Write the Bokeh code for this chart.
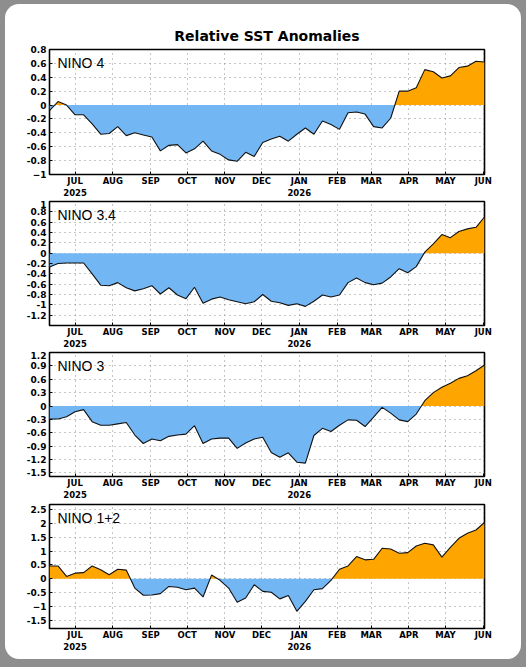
import numpy as np
import pandas as pd
from bokeh.plotting import figure
from bokeh.layouts import column
from bokeh.models import FixedTicker, Label, Range1d
from bokeh.embed import file_html
from bokeh.resources import INLINE

# ---------------- data ----------------
week_start = "2025-06-10"
n_weeks = 52

nino4 = [-0.08, 0.05, 0.00, -0.14, -0.14, -0.27, -0.42, -0.41, -0.31, -0.44,
         -0.40, -0.43, -0.46, -0.66, -0.58, -0.57, -0.69, -0.63, -0.52, -0.66,
         -0.71, -0.79, -0.81, -0.68, -0.74, -0.54, -0.49, -0.45, -0.52, -0.42,
         -0.33, -0.42, -0.23, -0.28, -0.35, -0.11, -0.10, -0.13, -0.31, -0.33,
         -0.19, 0.20, 0.20, 0.25, 0.51, 0.48, 0.39, 0.42, 0.54, 0.56, 0.63, 0.62]

nino34 = [-0.27, -0.20, -0.19, -0.19, -0.19, -0.40, -0.62, -0.63, -0.57, -0.67,
          -0.73, -0.69, -0.63, -0.79, -0.67, -0.81, -0.88, -0.66, -0.97, -0.89,
          -0.85, -0.90, -0.94, -0.98, -0.94, -0.80, -0.93, -0.96, -1.01, -0.98,
          -1.03, -0.93, -0.81, -0.85, -0.81, -0.57, -0.48, -0.57, -0.61, -0.58,
          -0.46, -0.30, -0.38, -0.26, 0.02, 0.18, 0.36, 0.30, 0.42, 0.47, 0.50, 0.70]

nino3 = [-0.29, -0.29, -0.24, -0.13, -0.08, -0.35, -0.43, -0.43, -0.40, -0.37,
         -0.65, -0.84, -0.74, -0.78, -0.68, -0.65, -0.63, -0.44, -0.84, -0.74,
         -0.72, -0.72, -0.95, -0.83, -0.74, -0.70, -1.04, -1.15, -1.05, -1.26,
         -1.28, -0.66, -0.50, -0.57, -0.43, -0.31, -0.32, -0.46, -0.25, -0.03,
         -0.16, -0.31, -0.35, -0.18, 0.12, 0.30, 0.42, 0.51, 0.62, 0.68, 0.79, 0.92]

nino12 = [0.46, 0.46, 0.08, 0.20, 0.22, 0.46, 0.32, 0.14, 0.34, 0.31,
          -0.34, -0.60, -0.59, -0.54, -0.28, -0.31, -0.40, -0.34, -0.66, 0.13,
          -0.06, -0.34, -0.85, -0.70, -0.22, -0.46, -0.49, -0.73, -0.61, -1.18,
          -0.82, -0.40, -0.36, -0.06, 0.34, 0.46, 0.80, 0.68, 0.70, 1.10,
          1.07, 0.92, 0.94, 1.18, 1.28, 1.22, 0.78, 1.13, 1.46, 1.64, 1.76, 2.03]

panel_names = ["NINO 4", "NINO 3.4", "NINO 3", "NINO 1+2"]

month_starts = ["2025-07-01", "2025-08-01", "2025-09-01", "2025-10-01", "2025-11-01",
                "2025-12-01", "2026-01-01", "2026-02-01", "2026-03-01", "2026-04-01",
                "2026-05-01", "2026-06-01"]
month_labels = ["JUL\n2025", "AUG", "SEP", "OCT", "NOV", "DEC", "JAN\n2026",
                "FEB", "MAR", "APR", "MAY", "JUN"]

y_ticks4 = [0.8, 0.6, 0.4, 0.2, 0, -0.2, -0.4, -0.6, -0.8, -1]
y_labels4 = ["0.8", "0.6", "0.4", "0.2", "0", "-0.2", "-0.4", "-0.6", "-0.8", "\u22121"]
y_ticks34 = [1, 0.8, 0.6, 0.4, 0.2, 0, -0.2, -0.4, -0.6, -0.8, -1, -1.2]
y_labels34 = ["1", "0.8", "0.6", "0.4", "0.2", "0", "-0.2", "-0.4", "-0.6", "-0.8", "-1", "-1.2"]
y_ticks3 = [1.2, 0.9, 0.6, 0.3, 0, -0.3, -0.6, -0.9, -1.2, -1.5]
y_labels3 = ["1.2", "0.9", "0.6", "0.3", "0", "-0.3", "-0.6", "-0.9", "-1.2", "-1.5"]
y_ticks12 = [2.5, 2, 1.5, 1, 0.5, 0, -0.5, -1, -1.5]
y_labels12 = ["2.5", "2", "1.5", "1", "0.5", "0", "-0.5", "\u22121", "-1.5"]

y_ranges = [(-1.0, 0.8), (-1.4, 1.0), (-1.58, 1.2), (-1.8, 2.68)]

# ---------------- styling ----------------
BLUE = "#72B6F4"
ORANGE = "#FFA500"
PAGE_GRAY = "#8e8e8e"
TICK_FONT = "DejaVu Sans"

weeks = pd.date_range(week_start, periods=n_weeks, freq="7D")
x_ms = weeks.values.astype("datetime64[ms]").astype("int64").astype(float)
tick_ms = [float(v) for v in pd.to_datetime(month_starts).values.astype("datetime64[ms]").astype("int64")]


def with_crossings(x, v):
    xs, ys = [x[0]], [v[0]]
    for i in range(1, len(v)):
        a, b = v[i - 1], v[i]
        if a * b < 0:
            t = a / (a - b)
            xs.append(x[i - 1] + t * (x[i] - x[i - 1]))
            ys.append(0.0)
        xs.append(x[i])
        ys.append(v[i])
    return np.array(xs), np.array(ys)


def make_panel(name, vals, yt, yl, yr, top, bottom=24, title=None, fh=124):
    p = figure(x_axis_type="datetime", output_backend="svg", toolbar_location=None,
               frame_width=435, frame_height=fh,
               x_range=Range1d(x_ms[0], x_ms[-1]), y_range=Range1d(*yr),
               min_border_left=44, min_border_right=37,
               min_border_top=top, min_border_bottom=bottom)
    p.background_fill_color = "white"
    p.border_fill_color = None
    p.outline_line_color = "black"
    p.outline_line_width = 1.6

    if title:
        p.title.text = title
        p.title.align = "center"
        p.title.text_font = "DejaVu Sans"
        p.title.text_font_size = "14px"
        p.title.text_font_style = "bold"
        p.title.text_color = "black"
        p.title.standoff = 11

    xs, ys = with_crossings(x_ms, np.array(vals, dtype=float))
    p.varea(x=xs, y1=0, y2=np.maximum(ys, 0), fill_color=ORANGE)
    p.varea(x=xs, y1=0, y2=np.minimum(ys, 0), fill_color=BLUE)
    p.line(x_ms, vals, line_color="#111111", line_width=1.1)

    p.xaxis.ticker = FixedTicker(ticks=tick_ms)
    p.xaxis.major_label_overrides = {t: l for t, l in zip(tick_ms, month_labels)}
    p.yaxis.ticker = FixedTicker(ticks=yt)
    p.yaxis.major_label_overrides = {float(t): l for t, l in zip(yt, yl)}

    for ax in (p.xaxis[0], p.yaxis[0]):
        ax.axis_line_color = None
        ax.major_tick_in = 3
        ax.major_tick_out = 0
        ax.major_tick_line_color = "black"
        ax.minor_tick_line_color = None
        ax.major_label_text_font = TICK_FONT
        ax.major_label_text_font_style = "bold"
        ax.major_label_text_color = "black"
    p.xaxis.major_label_text_font_size = "8.5px"
    p.yaxis.major_label_text_font_size = "9px"
    p.xaxis.major_label_standoff = 1
    p.yaxis.major_label_standoff = 3

    for g in (p.xgrid[0], p.ygrid[0]):
        g.grid_line_color = "#8a8a8a"
        g.grid_line_dash = "1 4"
        g.grid_line_width = 1

    p.add_layout(Label(x=x_ms[0], y=yr[1], x_offset=8, y_offset=-5, text=name,
                       text_baseline="top", text_font="Liberation Sans",
                       text_font_size="14px", text_color="black"))
    return p


p1 = make_panel(panel_names[0], nino4, y_ticks4, y_labels4, y_ranges[0], 45,
                title="Relative SST Anomalies", fh=125)
p2 = make_panel(panel_names[1], nino34, y_ticks34, y_labels34, y_ranges[1], 1)
p3 = make_panel(panel_names[2], nino3, y_ticks3, y_labels3, y_ranges[2], 1)
p4 = make_panel(panel_names[3], nino12, y_ticks12, y_labels12, y_ranges[3], 2, bottom=31)

card = column(p1, p2, p3, p4, spacing=0,
              styles={"background-color": "white", "border-radius": "14px"})
layout = column(card, spacing=0,
                styles={"background-color": PAGE_GRAY, "padding": "4px 5px 8px 5px"})
open("out.html", "w").write(file_html(layout, INLINE))
